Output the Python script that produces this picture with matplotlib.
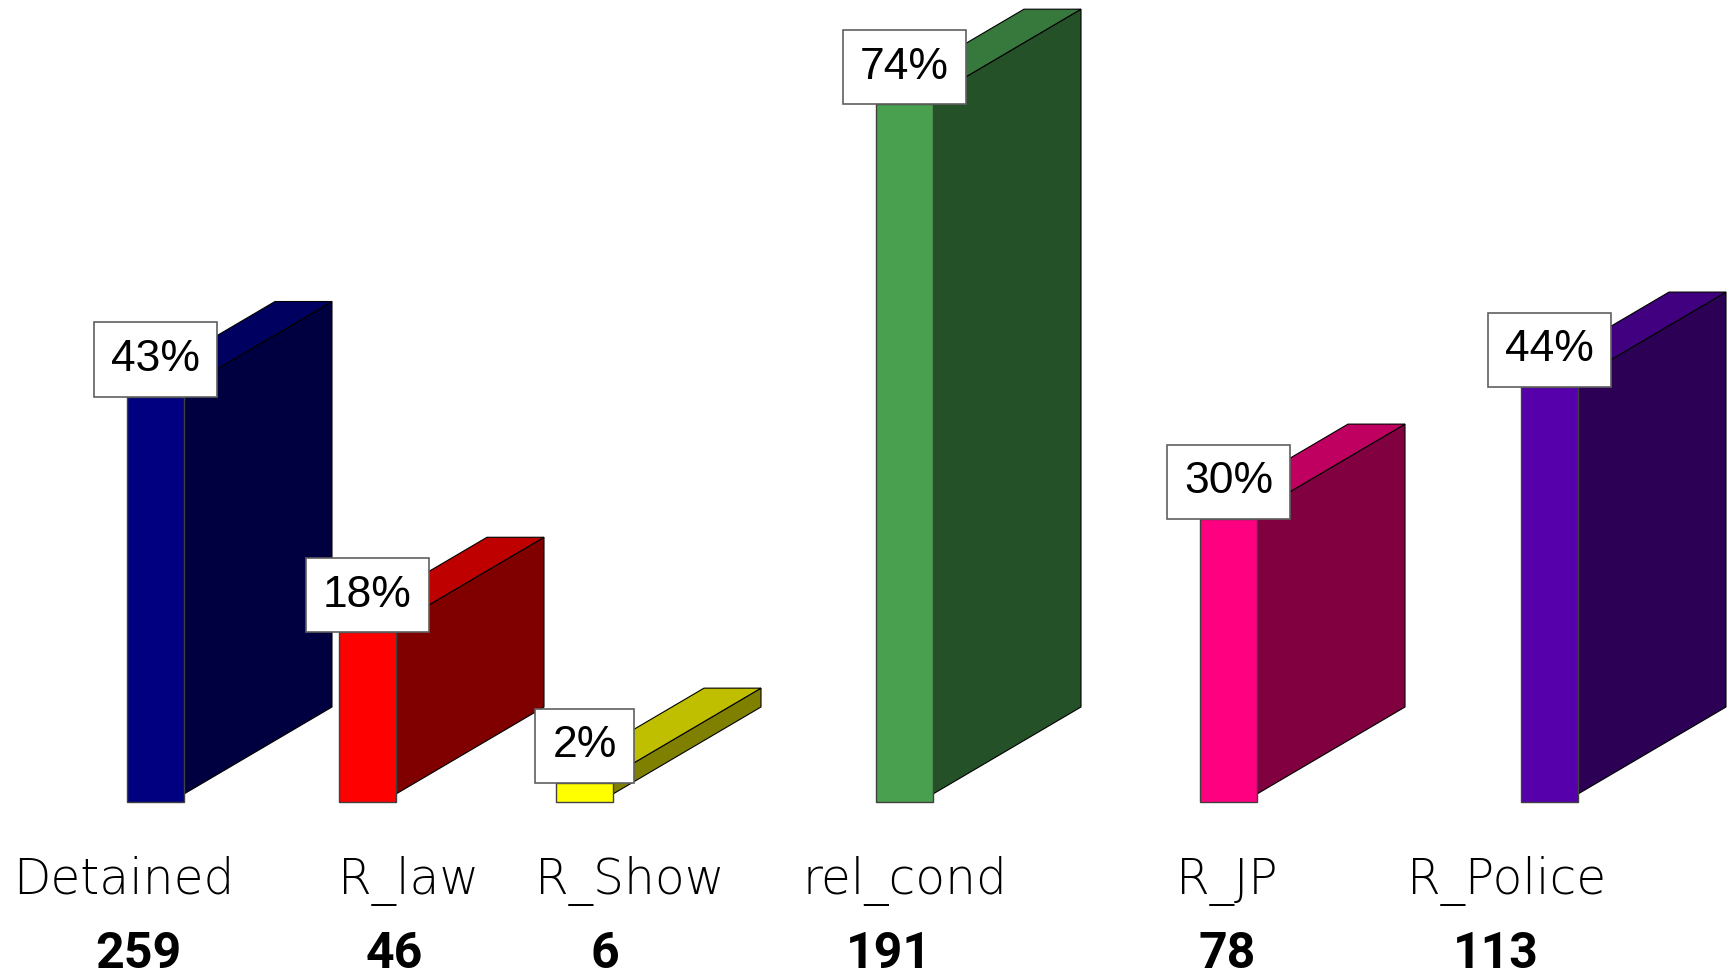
import numpy as np
import matplotlib
matplotlib.use("Agg")
import matplotlib.pyplot as plt
from matplotlib.patches import Polygon
from matplotlib.colors import to_rgb

# datos
categorias = ['Detained', 'R_law', 'R_Show', 'rel_cond', 'R_JP', 'R_Police']
cuentas = [259, 46, 6, 191, 78, 113]
porcentajes = [43, 18, 2, 74, 30, 44]
colores = ['#000080', '#FF0000', '#FFFF00', '#49A150', '#FF0080', '#5500AA']

# disposición (en píxeles de la figura)
W, H = 1731, 975
base_px = 802          # línea base de las barras, medida desde arriba
px_por_pct = 9.43      # píxeles por punto porcentual
ancho = 57             # ancho de la cara frontal
prof_dx = 148          # desplazamiento de la cara lateral
prof_dy = 87
salto = 8              # la cara lateral está un poco más alta que la frontal
x_barras = [127, 339, 556, 876, 1200, 1521]
x_nombres = [124, 409, 630, 905, 1227, 1507]
x_cuentas = [138, 394, 605, 889, 1227, 1496]

fig = plt.figure(figsize=(W / 100, H / 100), dpi=100)
ax = fig.add_axes([0, 0, 1, 1])
ax.set_xlim(0, W)
ax.set_ylim(-(H - base_px) / px_por_pct, base_px / px_por_pct)
ax.set_axis_off()

dy = prof_dy / px_por_pct
s = salto / px_por_pct


def sombra(color, f):
    r, g, b = to_rgb(color)
    return (r * f, g * f, b * f)


for x0, v, c in zip(x_barras, porcentajes, colores):
    x1 = x0 + ancho
    # cara lateral
    lateral = Polygon([(x1, s), (x1 + prof_dx, s + dy), (x1 + prof_dx, v + s + dy), (x1, v + s)],
                      closed=True, facecolor=sombra(c, 0.5), edgecolor='black', lw=0.8, zorder=2)
    ax.add_patch(lateral)
    # cara superior
    tapa = Polygon([(x0, v + s), (x1, v + s), (x1 + prof_dx, v + s + dy), (x0 + prof_dx, v + s + dy)],
                   closed=True, facecolor=sombra(c, 0.75), edgecolor='black', lw=0.8, zorder=2)
    ax.add_patch(tapa)
    # cara frontal
    ax.bar(x0, v, width=ancho, align='edge', color=c, edgecolor='#404040', lw=1, zorder=3)

# etiquetas de porcentaje
for x0, v in zip(x_barras, porcentajes):
    ax.annotate(f"{v}%", (x0 + ancho / 2, v), xytext=(0, 12), textcoords='offset points',
                ha='center', va='bottom', fontsize=32, family='Liberation Sans', color='black',
                bbox=dict(boxstyle='square,pad=0.38', facecolor='white', edgecolor='#606060', lw=1.2),
                zorder=5)

# nombres y cuentas
y_nombre = (base_px - 894) / px_por_pct
y_cuenta = (base_px - 968) / px_por_pct
for xn, xc, nombre, n in zip(x_nombres, x_cuentas, categorias, cuentas):
    ax.text(xn, y_nombre, nombre, ha='center', va='baseline', fontsize=35,
            family='DejaVu Sans', fontweight='light', color='black')
    ax.text(xc, y_cuenta, str(n), ha='center', va='baseline', fontsize=36,
            family='Roboto', fontweight='bold', color='black')

fig.savefig('out.png', dpi=100, facecolor='white')
